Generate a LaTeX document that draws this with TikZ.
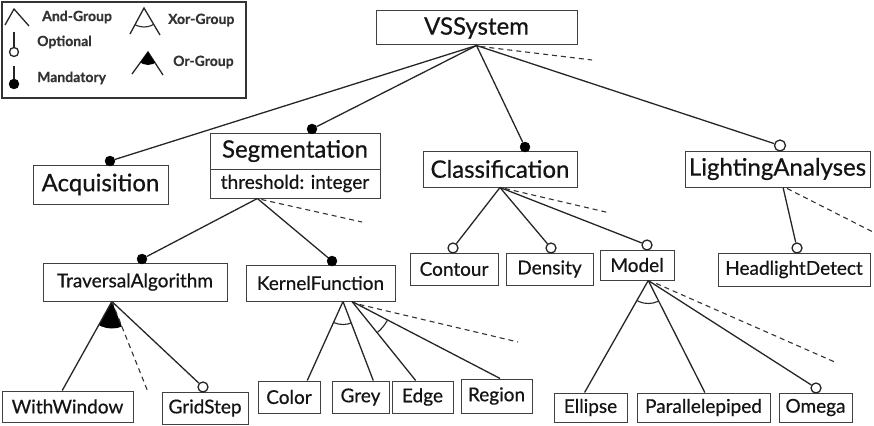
\documentclass[tikz,border=0pt]{standalone}
\usepackage{fontspec}
\setmainfont{Lato}[FakeBold=0.6]
\usetikzlibrary{calc}
\begin{document}
\begin{tikzpicture}[x=1pt,y=-1pt,
  box/.style={draw=black!75,line width=1pt,inner sep=0pt,text=black!92},
  big/.style={box,font=\fontsize{24}{28}\selectfont},
  small/.style={box,font=\fontsize{19}{23}\selectfont},
  conn/.style={line width=1.3pt,draw=black!85},
  dsh/.style={line width=1.1pt,draw=black!80,dash pattern=on 5pt off 4pt},
  mand/.style={circle,fill=black,draw=black,inner sep=0pt,minimum size=10pt},
  opt/.style={circle,fill=white,draw=black!85,line width=1.3pt,inner sep=0pt,minimum size=10pt},
  leg/.style={font=\bfseries\fontsize{14}{16}\selectfont,text=black!80,anchor=west,inner sep=0pt}
]
\useasboundingbox (0,0) rectangle (874,425);

% legend
\node[draw=black!80,line width=1.5pt,minimum width=244pt,minimum height=96pt,inner sep=0pt] (legend) at (124,50) {};
\draw[conn] (5,25) -- (14,9) -- (29,26);
\node[leg] (land) at (42,17) {And-Group};
\node[opt,minimum size=9pt] (lopt) at (14,52) {};
\draw[conn] (14,32) -- (lopt);
\node[leg] (lopttxt) at (37,42) {Optional};
\node[mand] (lmand) at (14,84) {};
\draw[conn] (14,66) -- (lmand);
\node[leg] (lmandtxt) at (37,78) {Mandatory};
\coordinate (lxa) at (144,8);
\coordinate (lxl) at (130,34);
\coordinate (lxr) at (160,35);
\draw[conn] (lxl) -- (lxa) -- (lxr);
\begin{scope}\clip (lxa) -- (lxl) -- (lxr) -- cycle; \draw[conn,line width=1.1pt] (lxa) circle (19pt);\end{scope}
\node[leg] (lxor) at (168,20) {Xor-Group};
\coordinate (loa) at (148,52);
\coordinate (lol) at (132,74);
\coordinate (lor) at (163,75);
\draw[conn] (lol) -- (loa) -- (lor);
\begin{scope}\clip (loa) -- (lol) -- (lor) -- cycle; \fill (loa) circle (13pt);\end{scope}
\node[leg] (lortxt) at (173,62) {Or-Group};

% feature boxes
\node[big,minimum width=201pt,minimum height=34pt] (vs) at (476.5,28) {VSSystem};
\node[big,minimum width=135pt,minimum height=39pt] (acq) at (100.5,184.5) {Acquisition};
\node[big,minimum width=170pt,minimum height=36pt] (segtop) at (295,151) {Segmentation};
\node[small,minimum width=170pt,minimum height=29pt] (segbot) at (295,183.5) {threshold: integer};
\node[big,minimum width=154pt,minimum height=36pt] (cls) at (500,169) {Classification};
\node[big,minimum width=185pt,minimum height=36pt] (light) at (777.5,169) {LightingAnalyses};
\node[small,minimum width=88pt,minimum height=32pt] (contour) at (454,269) {Contour};
\node[small,minimum width=87pt,minimum height=32pt] (density) at (549.5,269) {Density};
\node[small,minimum width=74pt,minimum height=30pt] (model) at (637,265) {Model};
\node[small,minimum width=152pt,minimum height=33pt] (head) at (794,269.5) {HeadlightDetect};
\node[small,minimum width=184pt,minimum height=38pt] (ta) at (135,282) {TraversalAlgorithm};
\node[small,minimum width=149pt,minimum height=36pt] (kf) at (320.5,283) {KernelFunction};
\node[small,minimum width=131pt,minimum height=31pt] (ww) at (67.5,406.5) {WithWindow};
\node[small,minimum width=86pt,minimum height=32pt] (gs) at (205,408) {GridStep};
\node[small,minimum width=62pt,minimum height=32pt] (color) at (289,397) {Color};
\node[small,minimum width=57pt,minimum height=32pt] (grey) at (360.5,397) {Grey};
\node[small,minimum width=61pt,minimum height=32pt] (edge) at (422.5,397) {Edge};
\node[small,minimum width=71pt,minimum height=34pt] (region) at (496.5,396) {Region};
\node[small,minimum width=73pt,minimum height=29pt] (ellipse) at (590.5,407.5) {Ellipse};
\node[small,minimum width=133pt,minimum height=29pt] (para) at (703.5,407.5) {Parallelepiped};
\node[small,minimum width=73pt,minimum height=29pt] (omega) at (815.5,407.5) {Omega};

% end markers
\node[mand] (acqd) at (110,161) {};
\node[mand] (segd) at (312,129) {};
\node[mand] (clsd) at (525,147) {};
\node[opt,minimum size=11pt] (lightc) at (780,145.5) {};
\node[opt] (contourc) at (453,248) {};
\node[opt] (densityc) at (551,248) {};
\node[opt] (modelc) at (647,245) {};
\node[opt] (headc) at (797,248) {};
\node[mand] (tad) at (142,259) {};
\node[mand] (kfd) at (332,261) {};
\node[opt] (gsc) at (203,387) {};
\node[opt] (omegac) at (816,388) {};

% VSSystem
\draw[conn] (vs.south) -- (acqd);
\draw[conn] (vs.south) -- (segd);
\draw[conn] (vs.south) -- (clsd);
\draw[conn] (vs.south) -- (lightc);
\coordinate (vsx) at (592,60);
\draw[dsh] ($(vs.south)+(4,1)$) -- (vsx);

% Segmentation
\coordinate (segr) at ($(segbot.south west)!0.28!(segbot.south east)$);
\draw[conn] (segr) -- (tad);
\draw[conn] (segr) -- (kfd);
\coordinate (segx) at (362,222);
\draw[dsh] ($(segr)+(4,1)$) -- (segx);

% Classification
\draw[conn] (cls.south) -- (contourc);
\draw[conn] (cls.south) -- (densityc);
\draw[conn] (cls.south) -- (modelc);
\coordinate (clsx) at (610,213);
\draw[dsh] ($(cls.south)+(5,1)$) -- (clsx);

% LightingAnalyses
\coordinate (lr) at ($(light.south west)!0.53!(light.south east)$);
\draw[conn] (lr) -- (headc);
\coordinate (lx) at (873,232);
\draw[dsh] ($(lr)+(4,1)$) -- (lx);

% TraversalAlgorithm (or-group)
\coordinate (tar) at ($(ta.south west)!0.375!(ta.south east)$);
\coordinate (wwt) at ($(ww.north west)!0.46!(ww.north east)$);
\coordinate (tax) at (148,392);
\begin{scope}\clip (tar) -- (wwt) -- (tax) -- cycle; \fill (tar) circle (27pt);\end{scope}
\draw[conn] (tar) -- (wwt);
\draw[conn] (tar) -- (gsc);
\draw[dsh] (tar) -- (tax);

% KernelFunction (two xor-groups)
\coordinate (kfr1) at ($(kf.south west)!0.65!(kf.south east)$);
\coordinate (kfr2) at ($(kf.south west)!0.71!(kf.south east)$);
\coordinate (colt) at ($(color.north west)!0.79!(color.north east)$);
\coordinate (greyt) at ($(grey.north west)!0.72!(grey.north east)$);
\coordinate (edget) at ($(edge.north west)!0.39!(edge.north east)$);
\coordinate (regt) at ($(region.north west)!0.55!(region.north east)$);
\draw[conn] (kfr1) -- (colt);
\draw[conn] (kfr1) -- (greyt);
\draw[conn] (kfr2) -- (edget);
\draw[conn] (kfr2) -- (regt);
\begin{scope}\clip (kfr1) -- (colt) -- (greyt) -- cycle; \draw[conn,line width=1.1pt] (kfr1) circle (23pt);\end{scope}
\begin{scope}\clip (kfr2) -- (edget) -- (regt) -- cycle; \draw[conn,line width=1.1pt] (kfr2) circle (40pt);\end{scope}
\coordinate (kfx) at (518,342);
\draw[dsh] ($(kf.south west)!0.76!(kf.south east)+(0,3)$) -- (kfx);

% Model (xor-group)
\coordinate (mr) at ($(model.south west)!0.65!(model.south east)$);
\coordinate (ellt) at ($(ellipse.north west)!0.42!(ellipse.north east)$);
\coordinate (parat) at ($(para.north west)!0.51!(para.north east)$);
\draw[conn] (mr) -- (ellt);
\draw[conn] (mr) -- (parat);
\draw[conn] (mr) -- (omegac);
\begin{scope}\clip (mr) -- (ellt) -- (parat) -- cycle; \draw[conn,line width=1.1pt] (mr) circle (23pt);\end{scope}
\coordinate (mx) at (837,363);
\draw[dsh] ($(mr)+(8,3)$) -- (mx);
\end{tikzpicture}
\end{document}
